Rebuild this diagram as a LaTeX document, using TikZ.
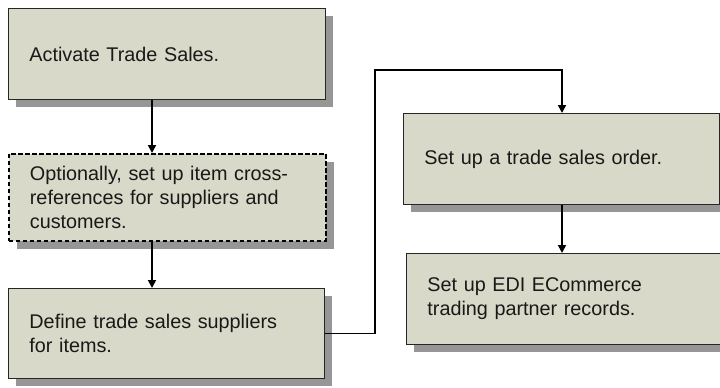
\documentclass[tikz,border=0pt]{standalone}
\usepackage{fontspec}
\setmainfont{Liberation Sans}
\usetikzlibrary{arrows.meta,shadows}
\definecolor{boxfill}{RGB}{216,217,200}
\definecolor{shadowgray}{RGB}{150,150,150}
\tikzset{
  stepbox/.style={rectangle, draw=black!85, line width=0.9pt, fill=boxfill,
    anchor=north west, align=left, inner xsep=21pt, inner ysep=0pt,
    font=\fontsize{19.8}{24}\selectfont, text=black!90,
    drop shadow={shadow xshift=8pt, shadow yshift=-8pt, fill=shadowgray, opacity=1}},
  optbox/.style={stepbox, draw=black, dashed, dash pattern=on 4.5pt off 2.5pt, line width=1.8pt},
  arr/.style={line width=1.7pt, -{Triangle[length=8pt,width=8pt]}}
}
\begin{document}
\begin{tikzpicture}[x=1pt,y=-1pt]
\useasboundingbox (0,0) rectangle (720,388);
\clip (0,0) rectangle (720,388);
\node[stepbox, minimum width=317pt, minimum height=91pt, text width=275pt] (b1) at (8,8) {\raisebox{-4pt}{Activate Trade Sales.}};
\node[optbox, minimum width=317pt, minimum height=87pt, text width=275pt] (b2) at (8,153) {Optionally, set up item cross-\\references for suppliers and\\customers.};
\node[stepbox, minimum width=316pt, minimum height=90pt, text width=274pt] (b3) at (8,288) {Define trade sales suppliers\\for items.};
\node[stepbox, minimum width=316pt, minimum height=91pt, text width=274pt] (b4) at (403,113) {Set up a trade sales order.};
\node[stepbox, minimum width=318pt, minimum height=91pt, text width=276pt] (b5) at (406,253) {Set up EDI ECommerce\\trading partner records.};
\coordinate (ax) at (152,0);
\coordinate (turn) at (375,70);
\coordinate (bx) at (562,0);
\draw[arr] (b1.south -| ax) -- (b2.north -| ax);
\draw[arr] (b2.south -| ax) -- (b3.north -| ax);
\draw[arr] (b3.east) -| (turn) -| (b4.north -| bx);
\draw[arr] (b4.south -| bx) -- (b5.north -| bx);
\end{tikzpicture}
\end{document}
